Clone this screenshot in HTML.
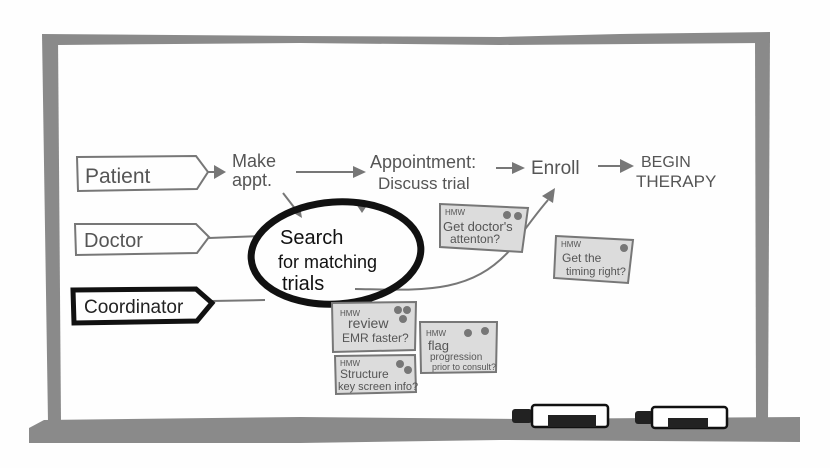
<!DOCTYPE html>
<html><head><meta charset="utf-8"><style>
html,body{margin:0;padding:0;background:#fff;}
svg{display:block}
text{font-family:"Liberation Sans",sans-serif;fill:#555;}
</style></head><body>
<svg width="830" height="468" viewBox="0 0 830 468" xmlns="http://www.w3.org/2000/svg">
<rect width="830" height="468" fill="#fefefe"/>
<path d="M42 34 L300 36 L500 37 L620 34 L770 32 L770 43 L500 45 L300 43 L58 45 Z" fill="#8a8a8a"/>
<path d="M42 34 L58 36 L61 422 L48 422 Z" fill="#8a8a8a"/>
<path d="M755 35 L770 32 L768 420 L756 420 Z" fill="#8a8a8a"/>
<path d="M44 420 L300 417 L520 419 L800 417 L800 442 L500 440 L300 443 L29 443 L29 428 Z" fill="#8a8a8a"/>
<g>
<rect x="512" y="409" width="20" height="14" rx="3" fill="#222"/>
<rect x="532" y="405" width="76" height="22" rx="3" fill="#fff" stroke="#111" stroke-width="2.5"/>
<rect x="548" y="415" width="48" height="12" fill="#222"/>
<rect x="635" y="411" width="18" height="13" rx="3" fill="#222"/>
<rect x="652" y="407" width="75" height="21" rx="3" fill="#fff" stroke="#111" stroke-width="2.5"/>
<rect x="668" y="418" width="40" height="10" fill="#222"/>
</g>
<g fill="none" stroke="#777" stroke-width="2">
<path d="M77 157 L196 156 L208 172 L197 189 L78 191 Z"/>
<path d="M75 224 L196 224 L209 237 L197 253 L76 255 Z"/>
<line x1="209" y1="238" x2="262" y2="236"/>
<line x1="212" y1="301" x2="265" y2="300"/>
<line x1="208" y1="172" x2="216" y2="172"/>
<line x1="296" y1="172" x2="356" y2="172"/>
<line x1="496" y1="168" x2="514" y2="168"/>
<line x1="598" y1="166" x2="622" y2="166"/>
<line x1="283" y1="193" x2="300" y2="215"/>
<path d="M355 289 C420 290 470 295 510 250 C520 236 535 215 548 200"/>
</g>
<g fill="#777">
<path d="M226 172 L214 165 L214 179 Z"/>
<path d="M366 172 L353 166 L353 178 Z"/>
<path d="M525 168 L512 162 L512 174 Z"/>
<path d="M634 166 L620 159 L620 173 Z"/>
<path d="M302 218 L292 212 L300 206 Z"/>
<path d="M370 201 L356 204 L362 213 Z"/>
<path d="M555 188 L542 196 L553 203 Z"/>
</g>
<path d="M73 290 L196 289 L212 303 L197 321 L74 323 Z" fill="none" stroke="#111" stroke-width="5"/>
<text x="85" y="183" font-size="21">Patient</text>
<text x="84" y="247" font-size="20">Doctor</text>
<text x="84" y="313" font-size="19" style="fill:#222">Coordinator</text>
<text x="232" y="167" font-size="18">Make</text>
<text x="232" y="186" font-size="18">appt.</text>
<text x="370" y="168" font-size="18">Appointment:</text>
<text x="378" y="189" font-size="17">Discuss trial</text>
<text x="531" y="174" font-size="19">Enroll</text>
<text x="641" y="167" font-size="16">BEGIN</text>
<text x="636" y="187" font-size="17">THERAPY</text>
<ellipse cx="336" cy="253" rx="85" ry="51" fill="none" stroke="#111" stroke-width="7" transform="rotate(-4 336 253)"/>
<text x="280" y="244" font-size="20" style="fill:#111">Search</text>
<text x="278" y="268" font-size="18" style="fill:#111">for matching</text>
<text x="282" y="290" font-size="20" style="fill:#111">trials</text>
<g stroke="#777" stroke-width="2" fill="#dcdcdc">
<path d="M440 204 L528 208 L522 252 L440 247 Z"/>
<path d="M556 236 L633 240 L628 283 L554 278 Z"/>
<path d="M332 303 L416 302 L415 350 L333 352 Z"/>
<path d="M420 322 L497 322 L496 372 L421 373 Z"/>
<path d="M335 356 L415 355 L416 392 L336 394 Z"/>
</g>
<g fill="#777">
<circle cx="507" cy="215" r="4"/><circle cx="518" cy="216" r="4"/>
<circle cx="624" cy="248" r="4"/>
<circle cx="398" cy="310" r="4"/><circle cx="407" cy="310" r="4"/><circle cx="403" cy="319" r="4"/>
<circle cx="468" cy="333" r="4"/><circle cx="485" cy="331" r="4"/>
<circle cx="400" cy="364" r="4"/><circle cx="408" cy="370" r="4"/>
</g>
<g font-size="8"><text x="445" y="215">HMW</text><text x="561" y="247">HMW</text><text x="340" y="316">HMW</text><text x="426" y="336">HMW</text><text x="340" y="366">HMW</text></g>
<text x="443" y="231" font-size="13">Get doctor's</text>
<text x="450" y="243" font-size="12">attenton?</text>
<text x="562" y="262" font-size="12">Get the</text>
<text x="566" y="275" font-size="11">timing right?</text>
<text x="348" y="328" font-size="14">review</text>
<text x="342" y="342" font-size="12">EMR faster?</text>
<text x="428" y="350" font-size="13">flag</text>
<text x="430" y="360" font-size="10">progression</text>
<text x="432" y="370" font-size="9">prior to consult?</text>
<text x="340" y="378" font-size="12">Structure</text>
<text x="338" y="390" font-size="11">key screen info?</text>
</svg>
</body></html>
